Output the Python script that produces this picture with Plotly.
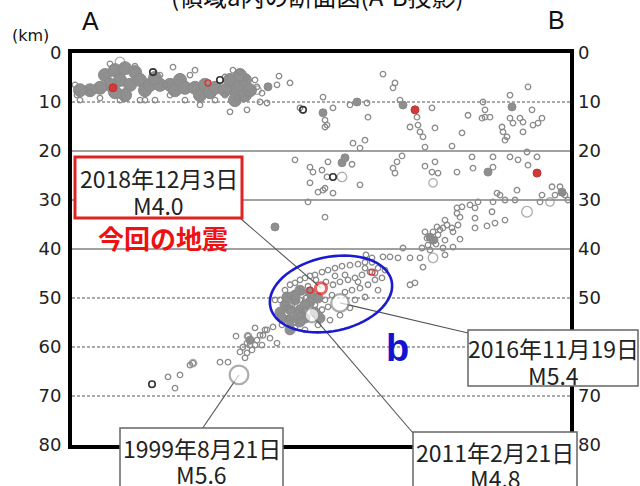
import math
import plotly.graph_objects as go

# ---------------- data ----------------
X_MAX = 99.6          # distance along A-B (km)
D_MAX = 80.0          # depth range (km)
depth_ticks = [0, 10, 20, 30, 40, 50, 60, 70, 80]
solid_grid = [20, 30, 40]
dashed_grid = [10, 50, 60, 70]

# shallow (crustal) hypocentres, small open circles
shallow_x = [1.0, 1.6, 20.2, 31.6, 35.0, 34.8, 37.0, 41.4, 43.6, 41.0,
             38.0, 35.2, 33.2, 37.6, 39.0, 45.6, 50.2, 52.2, 51.0, 50.6,
             62.2, 64.6, 64.2, 65.6, 69.0, 67.6, 69.2, 69.6, 70.2, 72.6,
             72.0, 55.6, 59.0, 59.2, 50.6, 79.2, 82.2, 82.6, 82.6, 83.6,
             82.0, 78.0, 87.6, 91.2, 89.6, 87.6, 88.2, 90.2, 92.0, 92.2,
             94.0, 93.2, 86.0, 86.2, 87.0, 90.2, 7.6, 12.6, 17.6, 18.6,
             19.6, 22.6, 23.6, 16.6, 14.6, 9.6, 5.6, 3.6, 24.6, 25.6,
             28.6, 30.6, 32.2, 33.6, 36.6, 30.6, 0.6, 13.6]
shallow_d = [8.6, 9.6, 2.9, 12.0, 11.6, 5.1, 6.9, 4.7, 6.1, 6.5,
             8.2, 8.2, 9.2, 10.0, 10.2, 11.2, 9.0, 11.2, 14.7, 13.7,
             4.3, 6.1, 7.1, 9.6, 13.1, 15.1, 14.7, 16.1, 17.1, 15.3,
             11.2, 10.6, 10.2, 13.1, 15.1, 12.7, 10.0, 11.6, 13.1, 13.1,
             13.3, 16.3, 8.6, 6.9, 13.3, 13.3, 14.3, 14.1, 11.6, 14.7,
             13.3, 14.3, 15.1, 16.1, 17.1, 16.1, 2.2, 2.7, 4.5, 6.5,
             8.6, 9.6, 4.5, 9.6, 9.6, 9.6, 9.2, 8.0, 3.5, 10.6,
             9.6, 8.6, 3.5, 3.9, 5.5, 4.9, 6.5, 9.6]

# intermediate depth hypocentres (20-47 km)
mid_x = [56.2, 58.6, 57.6, 70.6, 76.0, 86.6, 51.2, 56.0, 50.0, 50.6,
         52.2, 50.2, 57.6, 66.0, 65.0, 64.2, 64.6, 70.6, 72.6, 72.0,
         73.2, 77.0, 80.0, 80.2, 84.2, 84.2, 87.6, 89.2, 91.0, 93.0,
         91.2, 96.0, 97.6, 98.2, 94.0, 93.6, 89.0, 85.6, 85.0, 86.6,
         88.6, 84.2, 81.2, 79.6, 78.0, 77.0, 80.6, 77.0, 50.6, 84.0,
         80.6, 77.6, 74.6, 86.6, 84.6, 83.0, 80.6, 77.2, 76.0, 75.0,
         74.2, 73.0, 72.2, 71.6, 72.6, 71.0, 73.2, 74.6, 76.2, 77.6,
         76.2, 74.2, 71.6, 70.0, 74.6, 69.6, 70.2, 67.6, 66.2, 65.2,
         63.6, 62.2, 67.6, 68.6, 44.6, 47.6, 48.2, 47.6, 47.2, 49.2,
         51.0, 98.6, 99.2, 96.6, 71.2, 72.8, 70.6, 73.6]
mid_d = [18.4, 17.8, 19.4, 19.2, 19.0, 17.8, 22.2, 22.7, 23.9, 27.6,
         28.6, 28.0, 26.9, 21.0, 22.2, 23.5, 24.5, 23.1, 22.2, 24.3,
         24.5, 24.3, 21.2, 23.5, 21.2, 23.3, 21.2, 21.8, 20.2, 21.2,
         22.9, 27.3, 27.3, 28.6, 29.0, 30.4, 28.0, 29.0, 28.6, 30.0,
         30.0, 30.4, 30.4, 31.0, 31.4, 31.6, 31.6, 32.7, 33.5, 32.4,
         33.7, 33.5, 34.1, 34.1, 34.7, 35.3, 35.7, 35.1, 35.7, 35.1,
         35.7, 35.5, 36.5, 37.6, 38.2, 37.8, 37.1, 38.2, 36.5, 38.0,
         39.6, 39.8, 40.2, 39.8, 41.2, 41.8, 43.7, 41.8, 39.8, 41.8,
         41.6, 41.6, 47.3, 46.9, 21.8, 23.3, 24.3, 26.5, 30.4, 28.4,
         25.3, 29.0, 30.0, 29.0, 39.2, 39.0, 36.5, 36.1]

# slab hypocentres (cluster b and deeper tail)
slab_x = [41.6, 42.6, 43.6, 44.6, 45.6, 46.6, 47.6, 48.6, 50.0, 51.2,
          52.6, 54.0, 55.6, 57.2, 58.6, 60.0, 61.2, 59.6, 58.0, 56.6,
          55.2, 53.6, 52.2, 50.8, 48.0, 46.8, 45.6, 44.0, 42.6, 43.2,
          44.6, 45.6, 46.6, 48.6, 50.6, 52.0, 54.6, 56.0, 57.6, 59.2,
          60.6, 62.0, 61.2, 58.6, 56.6, 55.6, 53.6, 51.6, 49.2, 46.6,
          44.6, 42.0, 40.6, 43.6, 54.6, 52.6, 58.6, 60.6, 62.6, 60.0,
          58.8, 47.2, 46.0, 48.8, 50.0, 51.2, 57.2, 38.6, 37.6, 36.6,
          37.0, 35.2, 32.8, 35.0, 34.2, 33.6, 35.0, 36.0, 34.6, 38.2,
          39.0, 41.0, 40.2, 39.6, 38.0, 36.6, 35.6, 29.6, 31.2, 24.2,
          23.6, 21.6, 19.2, 20.6]
slab_d = [50.4, 48.4, 47.3, 46.9, 46.3, 45.9, 45.5, 45.3, 44.7, 44.3,
          43.9, 43.5, 43.3, 43.1, 42.7, 42.7, 43.9, 44.7, 45.3, 45.9,
          46.3, 46.7, 47.3, 46.7, 49.4, 50.0, 50.4, 51.4, 52.0, 54.1,
          54.9, 53.5, 52.4, 51.4, 50.4, 49.4, 48.8, 48.4, 48.0, 47.3,
          46.3, 45.9, 48.4, 49.8, 50.4, 52.0, 53.5, 54.5, 55.5, 56.5,
          56.1, 55.5, 50.4, 49.4, 45.3, 45.5, 43.9, 44.9, 44.3, 41.8,
          41.2, 47.6, 48.8, 46.3, 52.4, 51.8, 46.7, 56.5, 57.6, 56.1,
          58.6, 57.8, 57.8, 59.2, 60.0, 61.0, 61.2, 60.6, 62.2, 57.6,
          56.5, 59.2, 55.9, 58.2, 59.6, 59.6, 59.6, 63.1, 63.1, 63.3,
          63.7, 65.7, 66.1, 68.4]

# somewhat larger events (magnitude)
large_x = [9.6, 54.0, 72.2, 95.6, 91.0, 72.2, 37.0, 24.2, 35.2]
large_d = [1.8, 25.3, 26.5, 30.4, 32.4, 41.8, 7.6, 63.3, 57.8]
large_m = [3.6, 3.6, 3.3, 3.3, 3.9, 3.6, 3.3, 3.0, 3.0]

# densely overlapping activity (shallow swarms)
swarm_x = [6.6, 8.6, 10.6, 12.6, 9.6, 11.6, 13.6, 7.6, 5.6, 3.6,
           1.6, 14.6, 10.6, 8.6, 15.6, 17.6, 16.6, 19.6, 20.6, 21.6,
           22.6, 24.6, 25.6, 26.6, 27.6, 28.6, 31.6, 32.6, 33.6, 34.6,
           32.6, 34.6, 35.6, 30.6, 33.6]
swarm_d = [4.5, 3.5, 3.1, 3.9, 5.5, 6.5, 5.5, 6.5, 7.1, 7.6,
           7.6, 7.6, 8.6, 8.0, 6.5, 6.5, 5.1, 6.5, 7.6, 5.5,
           7.1, 7.1, 8.6, 6.5, 8.0, 7.1, 5.5, 7.6, 6.5, 5.5,
           9.6, 8.6, 7.6, 7.6, 4.5]
# small dense clumps
clump_x = [39.2, 50.2, 57.0, 66.2, 88.0, 54.0, 83.2, 98.0, 40.6, 54.6,
           71.6, 72.2, 35.6]
clump_d = [6.9, 12.2, 10.0, 10.6, 11.0, 22.4, 24.3, 28.4, 35.5, 21.4,
           37.6, 38.2, 58.6]
# dense part of cluster b
core_x = [42.6, 43.6, 44.6, 45.6, 46.6, 45.6, 43.6, 44.6, 47.6, 48.6,
          49.2, 46.6, 45.2, 43.0, 41.6, 49.6, 43.6, 42.0, 45.6, 47.6]
core_d = [51.4, 52.4, 50.4, 52.4, 54.1, 54.9, 54.5, 49.4, 50.8, 52.9,
          50.0, 51.4, 53.5, 49.8, 52.9, 54.1, 56.5, 54.1, 48.4, 48.8]

# recent events (red)
recent_x = [8.2, 68.6, 93.0]
recent_d = [7.1, 11.6, 24.5]
recent_open_x = [27.2, 60.0, 47.6]
recent_open_d = [6.1, 44.7, 48.4]
# dark events
dark_x = [16.2, 29.6, 46.2, 52.2, 16.0]
dark_d = [3.9, 5.5, 11.6, 25.3, 67.6]

# labelled main events
main_date = ["2018年12月3日", "2016年11月19日", "2011年2月21日", "1999年8月21日"]
main_m = [4.0, 5.4, 4.8, 5.6]
main_x = [49.8, 53.6, 48.0, 33.4]
main_d = [48.0, 51.0, 53.5, 65.7]

title_text = "(領域a内の断面図(A-B投影)"
this_eq_text = "今回の地震"

# ---------------- layout helpers ----------------
W, H = 640, 486
L, R, T, B = 72, 70, 53, 41
PW, PH = W - L - R, H - T - B


def px_x(px):
    return (px - L) / PW * X_MAX


def px_d(py):
    return (py - T) / PH * D_MAX


def paper_x(px):
    return (px - L) / PW


def paper_y(py):
    return (H - B - py) / PH


def msize(m):
    return 3 + 0.5 * m * m


GRAY = "#8a8a8a"
fig = go.Figure()

# dense swarms
fig.add_trace(go.Scatter(x=swarm_x, y=swarm_d, mode="markers",
                         marker=dict(size=13, color="#8f8f8f", line=dict(color="#8a8a8a", width=1)),
                         hoverinfo="skip"))
fig.add_trace(go.Scatter(x=clump_x, y=clump_d, mode="markers",
                         marker=dict(size=8, color="#8f8f8f", line=dict(color="#8a8a8a", width=1)),
                         hoverinfo="skip"))
fig.add_trace(go.Scatter(x=core_x, y=core_d, mode="markers",
                         marker=dict(size=10, color="#8f8f8f", line=dict(color="#8a8a8a", width=1)),
                         hoverinfo="skip"))

for xs, ds in ((shallow_x, shallow_d), (mid_x, mid_d), (slab_x, slab_d)):
    fig.add_trace(go.Scatter(x=xs, y=ds, mode="markers",
                             marker=dict(symbol="circle-open", size=5.5, color=GRAY, line=dict(width=1.3)),
                             hoverinfo="skip"))
fig.add_trace(go.Scatter(x=large_x, y=large_d, mode="markers",
                         marker=dict(symbol="circle-open", size=[msize(m) for m in large_m],
                                     color=GRAY, line=dict(width=1.3)),
                         hoverinfo="skip"))
fig.add_trace(go.Scatter(x=dark_x, y=dark_d, mode="markers",
                         marker=dict(symbol="circle-open", size=6.5, color="#333333", line=dict(width=1.6)),
                         hoverinfo="skip"))
fig.add_trace(go.Scatter(x=recent_x, y=recent_d, mode="markers",
                         marker=dict(size=8, color="#d23a3a", line=dict(color="#c03030", width=1)),
                         hoverinfo="skip"))
fig.add_trace(go.Scatter(x=recent_open_x, y=recent_open_d, mode="markers",
                         marker=dict(symbol="circle-open", size=6, color="#e03030", line=dict(width=1.3)),
                         hoverinfo="skip"))

# label boxes (pixel geometry): box edges, text line centres, leader end
boxes = [
    dict(x0=75, x1=242, y0=157, y1=218, l1=178, l2=205, ex=240, ey=218, border="#e02424", bw=3),
    dict(x0=468, x1=638, y0=330, y1=386, l1=348, l2=375, ex=468, ey=333, border="#666666", bw=1.5),
    dict(x0=413, x1=577, y0=432, y1=492, l1=452, l2=478, ex=413, ey=433, border="#666666", bw=1.5),
    dict(x0=120, x1=283, y0=428, y1=492, l1=448, l2=474, ex=202, ey=429, border="#666666", bw=1.5),
]

# leader lines from events to boxes
for i, bx in enumerate(boxes):
    fig.add_trace(go.Scatter(x=[main_x[i], px_x(bx["ex"])], y=[main_d[i], px_d(bx["ey"])],
                             mode="lines", line=dict(color="#555555", width=1.1),
                             hoverinfo="skip"))

# main events
fig.add_trace(go.Scatter(x=main_x[1:], y=main_d[1:], mode="markers",
                         marker=dict(size=[msize(m) for m in main_m[1:]], color="white",
                                     line=dict(color=GRAY, width=2.2)),
                         hoverinfo="skip"))
fig.add_trace(go.Scatter(x=main_x[:1], y=main_d[:1], mode="markers",
                         marker=dict(size=[msize(m) for m in main_m[:1]], color="white",
                                     line=dict(color="#e8201e", width=3)),
                         hoverinfo="skip"))

# right-hand depth axis carrier
fig.add_trace(go.Scatter(x=[0], y=[0], yaxis="y2", mode="markers",
                         marker=dict(opacity=0), hoverinfo="skip"))

# grid lines
shapes = []
for g in solid_grid:
    shapes.append(dict(type="line", xref="paper", yref="y", x0=0, x1=1, y0=g, y1=g,
                       line=dict(color="#444444", width=1.2), layer="below"))
for g in dashed_grid:
    shapes.append(dict(type="line", xref="paper", yref="y", x0=0, x1=1, y0=g, y1=g,
                       line=dict(color="#555555", width=1.2, dash="3px,2px"), layer="below"))

# region b ellipse
ell_cx, ell_cy, ell_a, ell_b, ell_ang = 331, 294, 62, 37, 12
c, s = math.cos(math.radians(ell_ang)), math.sin(math.radians(ell_ang))
pts = []
for k in range(73):
    t = 2 * math.pi * k / 72
    ex, ey = ell_a * math.cos(t), ell_b * math.sin(t)
    pts.append((px_x(ell_cx + ex * c + ey * s), px_d(ell_cy - ex * s + ey * c)))
path = "M " + " L ".join(f"{x:.3f},{y:.3f}" for x, y in pts) + " Z"
shapes.append(dict(type="path", xref="x", yref="y", path=path,
                   line=dict(color="#1a1ad2", width=2.6)))

annotations = []
JP = "Noto Sans CJK JP"
for i, bx in enumerate(boxes):
    shapes.append(dict(type="rect", xref="paper", yref="paper",
                       x0=paper_x(bx["x0"]), x1=paper_x(bx["x1"]),
                       y0=paper_y(bx["y1"]), y1=paper_y(bx["y0"]),
                       fillcolor="white", line=dict(color=bx["border"], width=bx["bw"]),
                       layer="above"))
    cx = paper_x((bx["x0"] + bx["x1"]) / 2)
    annotations.append(dict(xref="paper", yref="paper", x=cx, y=paper_y(bx["l1"]),
                            xanchor="center", yanchor="middle", showarrow=False,
                            text=main_date[i], font=dict(family=JP, size=23, color="#222222")))
    annotations.append(dict(xref="paper", yref="paper", x=cx, y=paper_y(bx["l2"]),
                            xanchor="center", yanchor="middle", showarrow=False,
                            text=f"M{main_m[i]:.1f}", font=dict(family=JP, size=23, color="#222222")))

annotations += [
    dict(xref="paper", yref="paper", x=paper_x(317), y=paper_y(-4), xanchor="center", yanchor="middle",
         text=title_text, showarrow=False, font=dict(family=JP, size=24, color="#111111")),
    dict(xref="paper", yref="paper", x=paper_x(90), y=paper_y(21), xanchor="center", yanchor="middle",
         text="A", showarrow=False, font=dict(family="Liberation Sans", size=25, color="#111111")),
    dict(xref="paper", yref="paper", x=paper_x(556), y=paper_y(20), xanchor="center", yanchor="middle",
         text="B", showarrow=False, font=dict(family="Liberation Sans", size=25, color="#111111")),
    dict(xref="paper", yref="paper", x=paper_x(30), y=paper_y(35), xanchor="center", yanchor="middle",
         text="(km)", showarrow=False, font=dict(family="DejaVu Sans", size=16, color="#111111")),
    dict(xref="paper", yref="paper", x=paper_x(163), y=paper_y(237), xanchor="center", yanchor="middle",
         text=f"<b>{this_eq_text}</b>", showarrow=False, font=dict(family=JP, size=26, color="#ee1111")),
    dict(xref="paper", yref="paper", x=paper_x(397), y=paper_y(348), xanchor="center", yanchor="middle",
         text="<b>b</b>", showarrow=False, font=dict(family="Liberation Sans", size=38, color="#1414d0")),
]

tickfont = dict(family="DejaVu Sans", size=18, color="#222222")
fig.update_layout(
    width=W, height=H, margin=dict(l=L, r=R, t=T, b=B),
    paper_bgcolor="white", plot_bgcolor="white", showlegend=False,
    xaxis=dict(range=[0, X_MAX], showgrid=False, zeroline=False, showticklabels=False,
               ticks="", showline=True, linecolor="black", linewidth=4, mirror=True, fixedrange=True),
    yaxis=dict(range=[D_MAX, 0], tickvals=depth_ticks, ticktext=[str(v) for v in depth_ticks],
               showgrid=False, zeroline=False, showline=True, linecolor="black", linewidth=4,
               mirror=True, ticks="", tickfont=tickfont, ticklabelstandoff=3),
    yaxis2=dict(range=[D_MAX, 0], overlaying="y", side="right", tickvals=depth_ticks,
                ticktext=[str(v) for v in depth_ticks], showgrid=False, zeroline=False,
                showline=False, ticks="", tickfont=tickfont, ticklabelstandoff=7),
    shapes=shapes, annotations=annotations,
)

fig.write_html("out.html", config={"displayModeBar": False},
               post_script="document.body.style.margin='0px';")
